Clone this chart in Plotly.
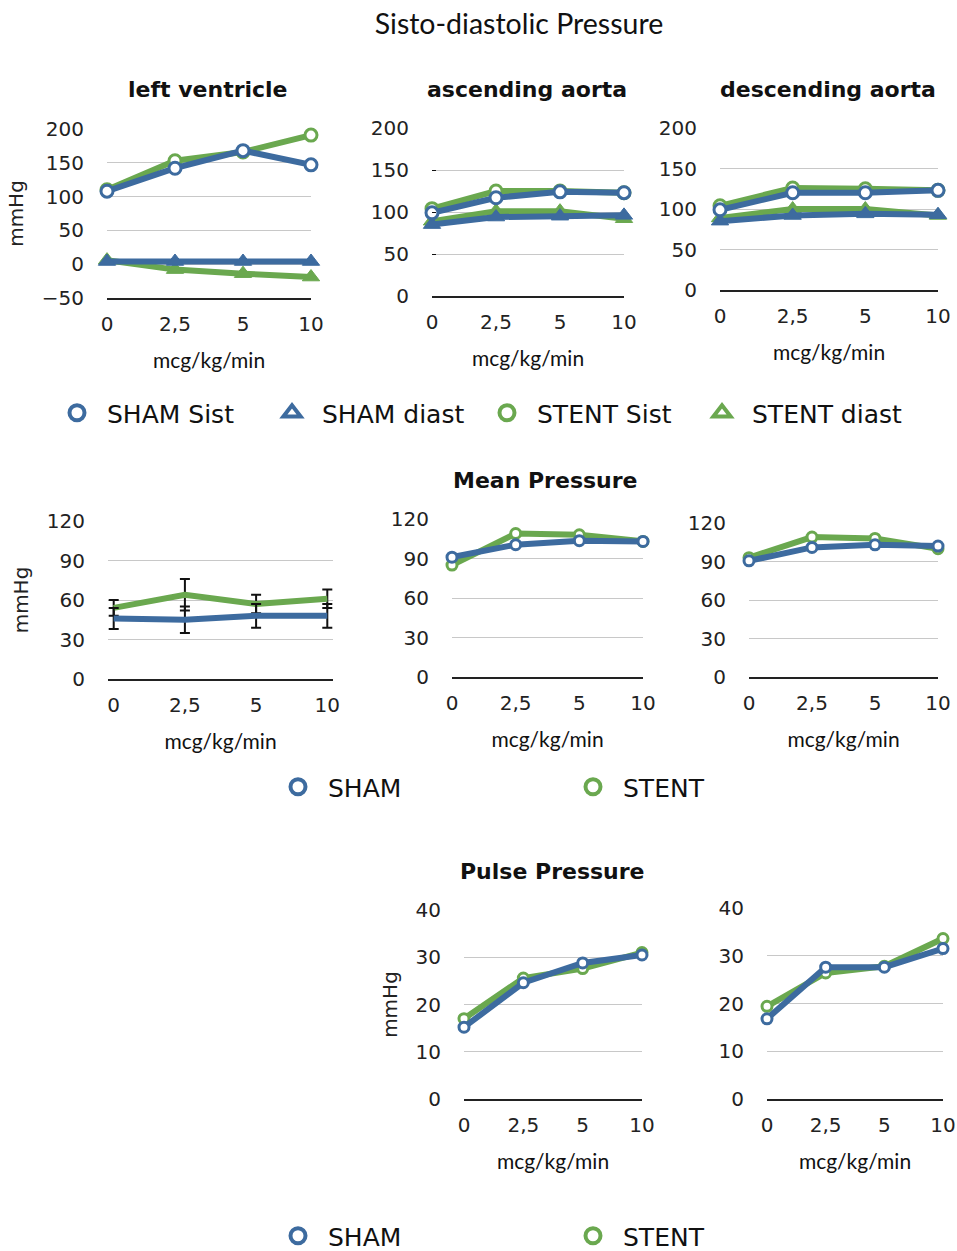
import plotly.graph_objects as go

# ---------------- data ----------------
doses = ['0', '2,5', '5', '10']

lv_sham_sist = [108, 142, 168, 147]
lv_sham_diast = [4, 4, 4, 4]
lv_stent_sist = [110, 153, 166, 191]
lv_stent_diast = [6, -8, -14, -19]

asc_sham_sist = [99, 117, 124, 123]
asc_sham_diast = [85, 94, 95, 96]
asc_stent_sist = [104, 125, 125, 123]
asc_stent_diast = [89, 101, 101, 92]

desc_sham_sist = [99, 120, 120, 123]
desc_sham_diast = [85, 92, 94, 93]
desc_stent_sist = [104, 126, 125, 123]
desc_stent_diast = [89, 100, 100, 92]

mean_lv_sham = [46, 45, 48, 48]
mean_lv_sham_err = [8, 10, 9, 9]
mean_lv_stent = [54, 64, 57, 61]
mean_lv_stent_err = [6, 12, 7, 7]
mean_asc_sham = [91, 100.5, 103.5, 103]
mean_asc_stent = [85, 109, 108, 103]
mean_desc_sham = [90.5, 101, 103, 102]
mean_desc_stent = [93, 109, 108, 100]

pulse_asc_sham = [15.2, 24.6, 28.8, 30.5]
pulse_asc_stent = [17, 25.6, 27.6, 31]
pulse_desc_sham = [16.8, 27.6, 27.6, 31.5]
pulse_desc_stent = [19.4, 26.4, 27.8, 33.6]

ticks_sd = [0, 50, 100, 150, 200]
ticks_lv = [-50, 0, 50, 100, 150, 200]
ticks_mean = [0, 30, 60, 90, 120]
ticks_pulse = [0, 10, 20, 30, 40]

BLUE = '#3d6b9f'
GREEN = '#6aa84f'
W, H = 957, 1251
TICKFONT = dict(family='DejaVu Sans', size=20, color='#222')
XTITLEFONT = dict(family='Lato', size=21, color='#111')
LBLFONT = dict(family='DejaVu Sans', size=20, color='#222')

fig = go.Figure()


def fx(a):
    return a / W


def fy(b):
    return 1 - b / H


# panels: x px left/right, y px top/bottom, y range, y ticks, has y label, x pad (category units)
panels = {
    1: (107, 311, 129, 298, [-50, 200], ticks_lv, True, 0),
    2: (432, 624, 128, 296, [0, 200], ticks_sd, False, 0),
    3: (720, 938, 128, 290, [0, 200], ticks_sd, False, 0),
    4: (108, 333, 521, 679, [0, 120], ticks_mean, True, 0.08),
    5: (452, 643, 519, 677, [0, 120], ticks_mean, False, 0),
    6: (749, 938, 523, 677, [0, 120], ticks_mean, False, 0),
    7: (464, 642, 910, 1099, [0, 40], ticks_pulse, True, 0),
    8: (767, 943, 908, 1099, [0, 40], ticks_pulse, False, 0),
}

layout_axes = {}
for i, (x0, x1, yt, yb, yr, tv, ylab, pad) in panels.items():
    xs = 'xaxis' if i == 1 else f'xaxis{i}'
    ys = 'yaxis' if i == 1 else f'yaxis{i}'
    layout_axes[xs] = dict(
        domain=[fx(x0), fx(x1)], anchor=f'y{i if i > 1 else ""}', type='category',
        range=[-pad, 3 + pad], showgrid=False, zeroline=False, showline=True,
        linecolor='#222', linewidth=2, ticks='', tickfont=TICKFONT,
        ticklabelstandoff=7, automargin=False,
        title=dict(text='mcg/kg/min', font=XTITLEFONT, standoff=18),
    )
    layout_axes[ys] = dict(
        domain=[fy(yb), fy(yt)], anchor=f'x{i if i > 1 else ""}',
        range=yr, tickvals=tv, showgrid=True, gridcolor='#c8c8c8', gridwidth=1,
        zeroline=False, showline=False, tickfont=TICKFONT,
        ticklabelstandoff=22, automargin=False,
        ticks='inside' if i == 2 else '', ticklen=4, tickcolor='#111',
        title=dict(text='mmHg' if ylab else '', font=LBLFONT, standoff=12),
    )


def add(i, y, color, symbol='circle', markers=True, err=None, msize=None):
    ax = '' if i == 1 else str(i)
    if symbol == 'circle':
        marker = dict(symbol='circle', size=msize or 12, color='white',
                      line=dict(color=color, width=3))
    else:
        marker = dict(symbol='triangle-up', size=msize or 15, color=color,
                      line=dict(color=color, width=1))
    tr = go.Scatter(
        x=doses, y=y, xaxis='x' + ax, yaxis='y' + ax,
        mode='lines+markers' if markers else 'lines',
        line=dict(color=color, width=6), marker=marker,
        cliponaxis=False, showlegend=False,
    )
    if err is not None:
        tr.error_y = dict(type='data', array=err, visible=True, color='#111',
                          thickness=2, width=5)
    fig.add_trace(tr)


# row 1
add(1, lv_stent_diast, GREEN, 'triangle')
add(1, lv_stent_sist, GREEN)
add(1, lv_sham_diast, BLUE, 'triangle')
add(1, lv_sham_sist, BLUE)
add(2, asc_stent_diast, GREEN, 'triangle')
add(2, asc_stent_sist, GREEN)
add(2, asc_sham_diast, BLUE, 'triangle')
add(2, asc_sham_sist, BLUE)
add(3, desc_stent_diast, GREEN, 'triangle')
add(3, desc_stent_sist, GREEN)
add(3, desc_sham_diast, BLUE, 'triangle')
add(3, desc_sham_sist, BLUE)
# row 2
add(4, mean_lv_stent, GREEN, markers=False, err=mean_lv_stent_err)
add(4, mean_lv_sham, BLUE, markers=False, err=mean_lv_sham_err)
add(5, mean_asc_stent, GREEN, msize=10)
add(5, mean_asc_sham, BLUE, msize=10)
add(6, mean_desc_stent, GREEN, msize=10)
add(6, mean_desc_sham, BLUE, msize=10)
# row 3
add(7, pulse_asc_stent, GREEN, msize=10)
add(7, pulse_asc_sham, BLUE, msize=10)
add(8, pulse_desc_stent, GREEN, msize=10)
add(8, pulse_desc_sham, BLUE, msize=10)

# legend entries (marker only)
def leg(name, color, symbol, legend):
    fig.add_trace(go.Scatter(
        x=[None], y=[None], mode='markers', name=name, legend=legend,
        marker=dict(symbol=symbol, size=15, color='white',
                    line=dict(color=color, width=4)),
        showlegend=True,
    ))

leg('SHAM Sist', BLUE, 'circle', 'legend')
leg('SHAM diast', BLUE, 'triangle-up', 'legend')
leg('STENT Sist', GREEN, 'circle', 'legend')
leg('STENT diast', GREEN, 'triangle-up', 'legend')
leg('SHAM', BLUE, 'circle', 'legend2')
leg('STENT', GREEN, 'circle', 'legend2')
leg('SHAM', BLUE, 'circle', 'legend3')
leg('STENT', GREEN, 'circle', 'legend3')

LEGFONT = dict(family='DejaVu Sans', size=25, color='#111')
legcommon = dict(orientation='h', font=LEGFONT, bgcolor='rgba(0,0,0,0)',
                 itemwidth=50, yanchor='middle', xanchor='left')

annos = [
    dict(text='<b>left ventricle</b>', x=fx(208), y=fy(89)),
    dict(text='<b>ascending aorta</b>', x=fx(527), y=fy(89)),
    dict(text='<b>descending aorta</b>', x=fx(828), y=fy(89)),
    dict(text='<b>Mean Pressure</b>', x=fx(545), y=fy(480)),
    dict(text='<b>Pulse Pressure</b>', x=fx(552), y=fy(871)),
]
for a in annos:
    a.update(xref='paper', yref='paper', showarrow=False, xanchor='center',
             yanchor='middle', font=dict(family='DejaVu Sans', size=22, color='#111'))

fig.update_layout(
    template='none',
    width=W, height=H,
    margin=dict(l=0, r=0, t=0, b=0, autoexpand=False),
    paper_bgcolor='white', plot_bgcolor='white',
    title=dict(text='Sisto-diastolic Pressure', x=fx(519), y=fy(24),
               xanchor='center', yanchor='middle',
               font=dict(family='Lato', size=28.5, color='#111')),
    legend=dict(x=fx(47), y=fy(413), entrywidth=150, **legcommon),
    legend2=dict(x=fx(268), y=fy(787), entrywidth=230, **legcommon),
    legend3=dict(x=fx(268), y=fy(1236), entrywidth=230, **legcommon),
    annotations=annos,
    **layout_axes,
)

fig.write_html(
    'out.html',
    config={'displayModeBar': False},
    post_script="document.body.style.margin='0';document.body.style.overflow='hidden';",
)
